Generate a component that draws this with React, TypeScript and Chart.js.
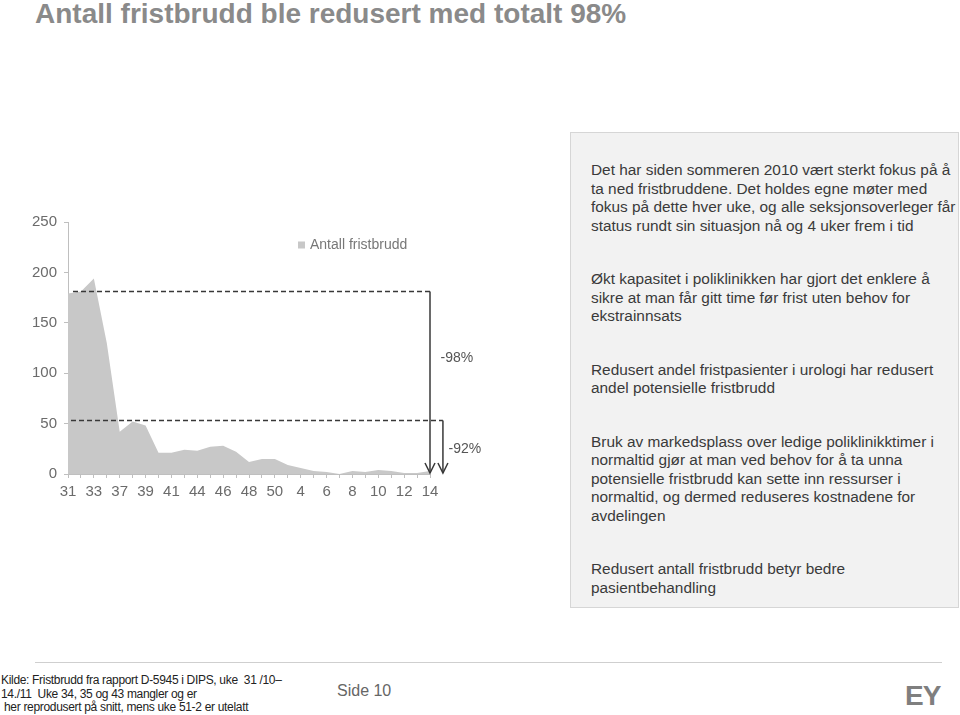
import React, { useEffect, useRef } from "react";
import { Chart, registerables } from "chart.js";

Chart.register(...registerables);

// ---------- data ----------
const titleText = "Antall fristbrudd ble redusert med totalt 98%";
const weeks = ["31", "32", "33", "36", "37", "38", "39", "40", "41", "42", "44", "45", "46", "47", "48", "49", "50", "3", "4", "5", "6", "7", "8", "9", "10", "11", "12", "13", "14"];
const fristbrudd = [179, 181, 194, 130, 42, 52, 48, 21, 21, 24, 23, 27, 28, 22, 12, 15, 15, 9, 6, 3, 2, 0, 3, 2, 4, 3, 1, 1, 3];
const seriesLabel = "Antall fristbrudd";
const yMin = 0;
const yMax = 250;
const yStep = 50;
const startLevel = 181;
const midLevel = 53;
const totalChangeLabel = "-98%";
const midChangeLabel = "-92%";
const totalLabelValue = 115;
const midLabelValue = 25;

const para1 = [
  "Det har siden sommeren 2010 vært sterkt fokus på å",
  "ta ned fristbruddene. Det holdes egne møter med",
  "fokus på dette hver uke, og alle seksjonsoverleger får",
  "status rundt sin situasjon nå og 4 uker frem i tid",
];
const para2 = [
  "Økt kapasitet i poliklinikken har gjort det enklere å",
  "sikre at man får gitt time før frist uten behov for",
  "ekstrainnsats",
];
const para3 = [
  "Redusert andel fristpasienter i urologi har redusert",
  "andel potensielle fristbrudd",
];
const para4 = [
  "Bruk av markedsplass over ledige poliklinikktimer i",
  "normaltid gjør at man ved behov for å ta unna",
  "potensielle fristbrudd kan sette inn ressurser i",
  "normaltid, og dermed reduseres kostnadene for",
  "avdelingen",
];
const para5 = [
  "Redusert antall fristbrudd betyr bedre",
  "pasientbehandling",
];
const paragraphs = [para1, para2, para3, para4, para5];

const sourceLines = [
  "Kilde: Fristbrudd fra rapport D-5945 i DIPS, uke  31 /10–",
  "14./11  Uke 34, 35 og 43 mangler og er",
  " her reprodusert på snitt, mens uke 51-2 er utelatt",
];
const pageLabel = "Side 10";
const logoText = "EY";

const FONT = "'Liberation Sans', Arial, Helvetica, sans-serif";

const annotationPlugin = {
  id: "fristAnnotations",
  afterDatasetsDraw(chart: any) {
    const { ctx } = chart;
    const x = chart.scales.x;
    const y = chart.scales.y;
    const n = weeks.length;
    const x0 = x.getPixelForValue(0);
    const xLast = x.getPixelForValue(n - 1);
    const step = x.getPixelForValue(1) - x0;
    const xSecond = xLast + step;
    const yBase = y.getPixelForValue(0) - 1;
    const yTop = y.getPixelForValue(startLevel);
    const yMid = y.getPixelForValue(midLevel);

    const line = (ax: number, ay: number, bx: number, by: number) => {
      ctx.beginPath();
      ctx.moveTo(ax, ay);
      ctx.lineTo(bx, by);
      ctx.stroke();
    };
    const arrowHead = (tx: number, ty: number) => {
      ctx.beginPath();
      ctx.moveTo(tx - 5, ty - 10);
      ctx.lineTo(tx, ty);
      ctx.lineTo(tx + 5, ty - 10);
      ctx.stroke();
    };

    ctx.save();
    ctx.strokeStyle = "#383838";
    ctx.lineWidth = 1.5;
    ctx.setLineDash([5, 3]);
    line(x0 + 5, yTop, xLast, yTop);
    line(x0 + 3, yMid, xSecond, yMid);
    ctx.setLineDash([]);
    line(xLast, yTop, xLast, yBase);
    line(xSecond, yMid, xSecond, yBase);
    arrowHead(xLast, yBase);
    arrowHead(xSecond, yBase);

    ctx.fillStyle = "#555555";
    ctx.font = `14px ${FONT}`;
    ctx.textAlign = "center";
    ctx.textBaseline = "middle";
    ctx.fillText(totalChangeLabel, xSecond + 14, y.getPixelForValue(totalLabelValue));
    ctx.fillText(midChangeLabel, xSecond + 22, y.getPixelForValue(midLabelValue));

    // legend
    const ds = chart.data.datasets[0];
    ctx.fillStyle = ds.backgroundColor;
    ctx.fillRect(298, 41.5, 7, 7);
    ctx.fillStyle = "#777777";
    ctx.textAlign = "left";
    ctx.fillText(ds.label, 310, 45.5);
    ctx.restore();
  },
};

function AreaChart() {
  const ref = useRef<HTMLCanvasElement | null>(null);
  useEffect(() => {
    if (!ref.current) return;
    const chart = new Chart(ref.current, {
      type: "line",
      data: {
        labels: weeks,
        datasets: [
          {
            label: seriesLabel,
            data: fristbrudd,
            fill: "origin",
            backgroundColor: "#c8c8c8",
            borderColor: "#c8c8c8",
            borderWidth: 0,
            pointRadius: 0,
            tension: 0,
          },
        ],
      },
      options: {
        animation: false,
        responsive: false,
        devicePixelRatio: 1,
        layout: { padding: { top: 22, right: 130, left: 0, bottom: 0 } },
        plugins: {
          legend: { display: false },
          tooltip: { enabled: false },
        },
        scales: {
          x: {
            type: "category",
            offset: false,
            afterFit: (s: any) => {
              s.height = 36;
            },
            grid: { display: true, drawOnChartArea: false, drawTicks: true, tickLength: 4, color: "#bfbfbf" },
            border: { display: true, color: "#bfbfbf", width: 1 },
            ticks: {
              autoSkip: false,
              maxRotation: 0,
              minRotation: 0,
              padding: 5,
              color: "#6b6b6b",
              font: { family: FONT, size: 15 },
              callback: (_v: any, i: number) => (i % 2 === 0 ? weeks[i] : ""),
            },
          },
          y: {
            min: yMin,
            max: yMax,
            afterFit: (s: any) => {
              s.width = 68;
            },
            grid: { display: true, drawOnChartArea: false, drawTicks: true, tickLength: 4, color: "#bfbfbf" },
            border: { display: true, color: "#bfbfbf", width: 1 },
            ticks: {
              stepSize: yStep,
              padding: 7,
              color: "#6b6b6b",
              font: { family: FONT, size: 15 },
            },
          },
        },
      },
      plugins: [annotationPlugin],
    } as any);
    return () => chart.destroy();
  }, []);
  return <canvas ref={ref} width={560} height={310} style={{ position: "absolute", left: 0, top: 200, width: 560, height: 310 }} />;
}

export default function App() {
  return (
    <div style={{ position: "absolute", left: 0, top: 0, width: 960, height: 715, background: "#ffffff", overflow: "hidden", fontFamily: FONT }}>
      <div style={{ position: "absolute", left: 35, top: 0, fontSize: 28, lineHeight: "28px", fontWeight: 700, color: "#8a8a8a", whiteSpace: "nowrap" }}>
        {titleText}
      </div>
      <AreaChart />
      <div
        style={{
          position: "absolute",
          left: 570,
          top: 132,
          width: 389,
          height: 476,
          boxSizing: "border-box",
          background: "#f2f2f2",
          border: "1px solid #d6d6d6",
          padding: "28px 0 0 20px",
          color: "#3a3a3a",
          fontSize: 15.4,
          lineHeight: "18.5px",
          whiteSpace: "nowrap",
        }}
      >
        {paragraphs.map((p, i) => (
          <div key={i} style={{ marginTop: i === 0 ? 0 : 35 }}>
            {p.map((l, j) => (
              <div key={j}>{l}</div>
            ))}
          </div>
        ))}
      </div>
      <div style={{ position: "absolute", left: 35, top: 662, width: 907, height: 1, background: "#cfcfcf" }} />
      <div style={{ position: "absolute", left: 1, top: 674, fontSize: 12, lineHeight: "13.5px", letterSpacing: -0.32, color: "#222222", whiteSpace: "pre" }}>
        {sourceLines.map((l, i) => (
          <div key={i}>{l}</div>
        ))}
      </div>
      <div style={{ position: "absolute", left: 337, top: 682, fontSize: 16, lineHeight: "18px", color: "#666666" }}>{pageLabel}</div>
      <div style={{ position: "absolute", left: 905, top: 682, fontSize: 28, lineHeight: "28px", fontWeight: 700, color: "#7f7f7f", letterSpacing: -1 }}>
        {logoText}
      </div>
    </div>
  );
}
